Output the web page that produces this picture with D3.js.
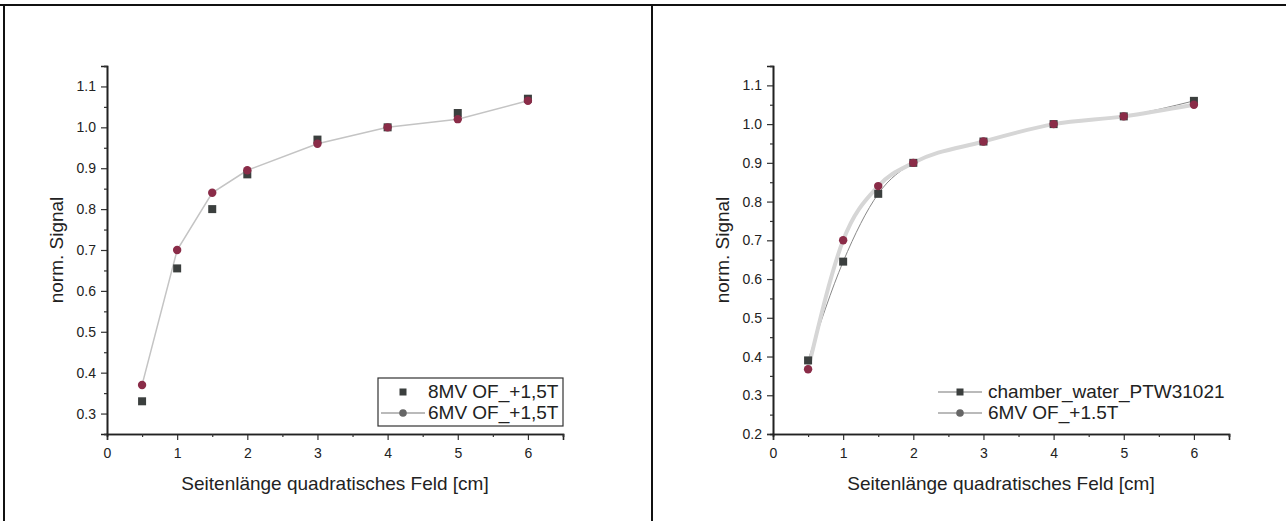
<!DOCTYPE html>
<html><head><meta charset="utf-8">
<script src="https://cdn.jsdelivr.net/npm/d3@7"></script>
<style>body{margin:0;background:#fff}svg{display:block}text{font-family:"Liberation Sans",Arial,sans-serif;fill:#222}</style>
</head><body><svg id="c" width="1286" height="521"></svg>
<script>
// ---- data ----
const xTicks = [0,1,2,3,4,5,6];
const leftYTicks = [0.3,0.4,0.5,0.6,0.7,0.8,0.9,1.0,1.1];
const rightYTicks = [0.2,0.3,0.4,0.5,0.6,0.7,0.8,0.9,1.0,1.1];
const fieldSizes = [0.5,1,1.5,2,3,4,5,6];
const left8MV = [0.33,0.655,0.80,0.885,0.97,1.0,1.035,1.07];
const left6MV = [0.37,0.70,0.84,0.895,0.96,1.0,1.02,1.065];
const rightChamber = [0.39,0.645,0.82,0.90,0.955,1.0,1.02,1.06];
const right6MV = [0.367,0.70,0.84,0.90,0.955,1.0,1.02,1.05];
const leftLegend = ["8MV OF_+1,5T","6MV OF_+1,5T"];
const rightLegend = ["chamber_water_PTW31021","6MV OF_+1.5T"];
const xTitle = "Seitenlänge quadratisches Feld [cm]";
const yTitle = "norm. Signal";

const svg = d3.select("#c");
// frame
svg.append("line").attr("x1",0).attr("x2",1286).attr("y1",5).attr("y2",5).attr("stroke","#111").attr("stroke-width",2);
svg.append("line").attr("x1",4).attr("x2",4).attr("y1",5).attr("y2",521).attr("stroke","#111").attr("stroke-width",2);
svg.append("line").attr("x1",652).attr("x2",652).attr("y1",5).attr("y2",521).attr("stroke","#111").attr("stroke-width",2);

const SQ = "#3b3f3e", CI = "#8a2c48";

function panel(opt){
  const g = svg.append("g");
  const x = d3.scaleLinear().domain([0,6.5]).range([opt.x0, opt.x0+456]);
  const y = d3.scaleLinear().domain(opt.yDom).range([434, 66]);
  // lines
  opt.series.forEach(s=>{
    if(!s.line) return;
    const line = d3.line().x((d,i)=>x(fieldSizes[i])).y(d=>y(d)).curve(s.curve);
    g.append("path").attr("d",line(s.values)).attr("fill","none")
      .attr("stroke",s.lineColor).attr("stroke-width",s.lineWidth).attr("stroke-linecap","round");
  });
  opt.series.forEach(s=>{
    s.values.forEach((v,i)=>{
      if(s.shape==="square") g.append("rect").attr("x",x(fieldSizes[i])-4).attr("y",y(v)-4).attr("width",8).attr("height",8).attr("fill",SQ);
      else g.append("circle").attr("cx",x(fieldSizes[i])).attr("cy",y(v)).attr("r",4.2).attr("fill",CI);
    });
  });
  // axes
  const xa = g.append("g").attr("transform","translate(0,434)")
    .call(d3.axisBottom(x).tickValues(xTicks).tickFormat(d3.format("d")).tickSize(6).tickPadding(8));
  const xm = g.append("g").attr("transform","translate(0,434)")
    .call(d3.axisBottom(x).tickValues(d3.range(0.5,6.6,1)).tickFormat("").tickSize(3));
  const ya = g.append("g").attr("transform",`translate(${opt.x0},0)`)
    .call(d3.axisLeft(y).tickValues(opt.yTicks).tickFormat(d3.format(".1f")).tickSize(6).tickPadding(5));
  const minors = d3.range(opt.yDom[0], opt.yDom[1]+0.001, 0.05).filter(v=>!opt.yTicks.some(t=>Math.abs(t-v)<1e-6));
  const ym = g.append("g").attr("transform",`translate(${opt.x0},0)`)
    .call(d3.axisLeft(y).tickValues(minors).tickFormat("").tickSize(3));
  [xa,xm,ya,ym].forEach(a=>{
    a.selectAll("path").attr("stroke","#222").attr("stroke-width",1.6);
    a.selectAll("line").attr("stroke","#333").attr("stroke-width",1.2);
    a.selectAll("text").attr("font-size",14).attr("fill","#333").style("font-family","'Liberation Sans',Arial,sans-serif");
  });
  // titles
  g.append("text").attr("x",opt.x0+228).attr("y",490).attr("text-anchor","middle").attr("font-size",19).attr("fill","#333").text(xTitle);
  g.append("text").attr("transform",`translate(${opt.x0-44},250) rotate(-90)`).attr("text-anchor","middle").attr("font-size",19).attr("fill","#333").text(yTitle);
  // legend
  const L = opt.legend;
  if(L.box) g.append("rect").attr("x",L.x).attr("y",378).attr("width",L.w).attr("height",48).attr("fill","#fff").attr("stroke","#333").attr("stroke-width",1.2);
  opt.series.forEach((s,i)=>{
    const ly = 392 + i*21;
    const sx = L.x + L.sym;
    if(s.line) g.append("line").attr("x1",sx-22).attr("x2",sx+22).attr("y1",ly).attr("y2",ly).attr("stroke","#777").attr("stroke-width",1.2);
    if(s.shape==="square") g.append("rect").attr("x",sx-3.5).attr("y",ly-3.5).attr("width",7).attr("height",7).attr("fill",SQ);
    else g.append("circle").attr("cx",sx).attr("cy",ly).attr("r",3.8).attr("fill","#666");
    g.append("text").attr("x",L.x+L.tx).attr("y",ly+6).attr("font-size",19).attr("fill","#333").text(opt.legendLabels[i]);
  });
}

panel({x0:107, yDom:[0.25,1.15], yTicks:leftYTicks,
  series:[{values:left8MV,shape:"square",line:false},
          {values:left6MV,shape:"circle",line:true,lineColor:"#c4c4c4",lineWidth:1.5,curve:d3.curveLinear}],
  legend:{box:true,x:378,w:185,sym:25,tx:50}, legendLabels:leftLegend});
panel({x0:773, yDom:[0.2,1.15], yTicks:rightYTicks,
  series:[{values:rightChamber,shape:"square",line:true,lineColor:"#888",lineWidth:1,curve:d3.curveMonotoneX},
          {values:right6MV,shape:"circle",line:true,lineColor:"#d6d6d6",lineWidth:4,curve:d3.curveMonotoneX}],
  legend:{box:false,x:938,w:0,sym:22,tx:50}, legendLabels:rightLegend});
</script></body></html>
